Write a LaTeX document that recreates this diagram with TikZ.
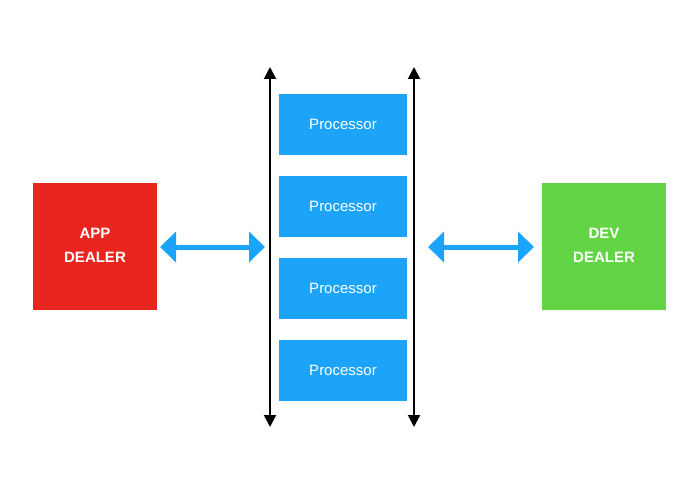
\documentclass[tikz,border=0pt]{standalone}
\usepackage{fontspec}
\setmainfont{Liberation Sans}
\usetikzlibrary{arrows.meta}
\definecolor{dealerred}{HTML}{E8261F}
\definecolor{dealergreen}{HTML}{63D445}
\definecolor{procblue}{HTML}{1CA4FA}
\begin{document}
\begin{tikzpicture}[x=1pt,y=-1pt,
  dealer/.style={minimum width=124pt,minimum height=127pt,inner sep=0pt,
    text=white,font=\fontsize{15}{25}\selectfont\bfseries,align=center},
  proc/.style={fill=procblue,minimum width=128pt,minimum height=61pt,inner sep=0pt,
    text=white,font=\fontsize{15}{16}\selectfont},
  bus/.style={line width=2pt,{Triangle[length=12pt,width=12pt]}-{Triangle[length=12pt,width=12pt]}},
  link/.style={procblue,line width=5pt,{Triangle[length=16pt,width=30pt]}-{Triangle[length=16pt,width=30pt]}}]
\useasboundingbox (0,0) rectangle (700,489);
% dealers
\node[dealer,fill=dealerred] (app) at (95,246.5) {\raisebox{2.5pt}{\shortstack[c]{APP\\[11pt]DEALER}}};
\node[dealer,fill=dealergreen] (dev) at (604,246.5) {\raisebox{2.5pt}{\shortstack[c]{DEV\\[11pt]DEALER}}};
% processors
\node[proc] (p1) at (343,124.5) {Processor};
\node[proc] (p2) at (343,206.5) {Processor};
\node[proc] (p3) at (343,288.5) {Processor};
\node[proc] (p4) at (343,370) {Processor};
% vertical buses
\coordinate (lt) at (270,67);
\coordinate (lb) at (270,427);
\coordinate (rt) at (414,67);
\coordinate (rb) at (414,427);
\draw[bus] (lt) -- (lb);
\draw[bus] (rt) -- (rb);
% links between dealers and buses
\coordinate (la) at (160,247);
\coordinate (lz) at (265,247);
\coordinate (ra) at (428,247);
\coordinate (rz) at (534,247);
\draw[link] (la) -- (lz);
\draw[link] (ra) -- (rz);
\end{tikzpicture}
\end{document}
